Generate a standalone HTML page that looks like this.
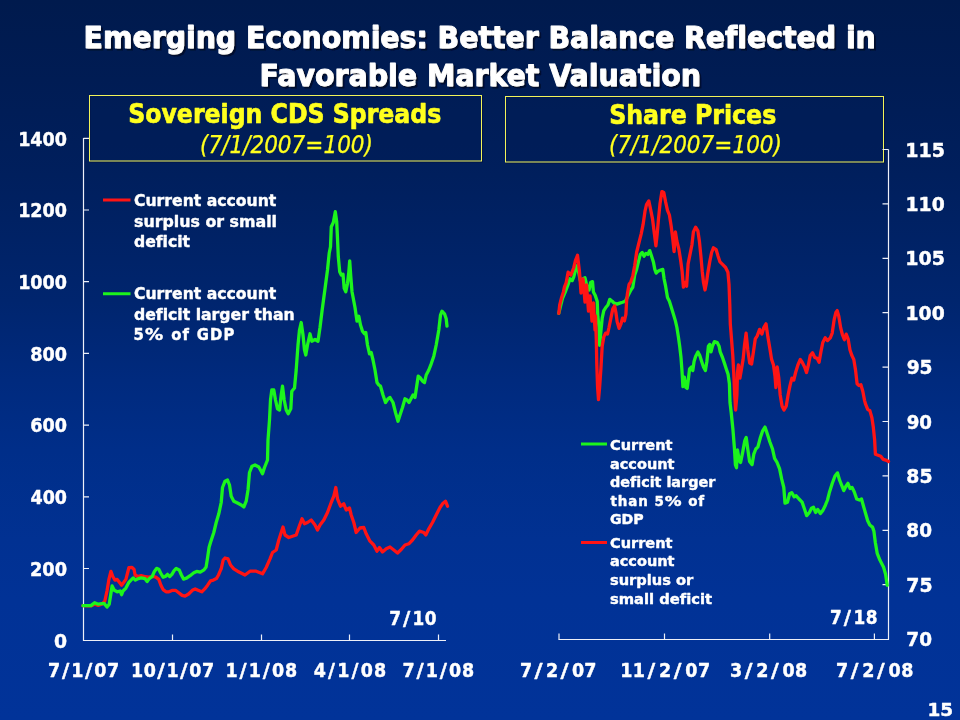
<!DOCTYPE html>
<html lang="en"><head><meta charset="utf-8"><title>Emerging Economies: Better Balance Reflected in Favorable Market Valuation</title>
<style>
html,body{margin:0;padding:0;background:#003399;}
body{width:960px;height:720px;overflow:hidden;}
svg{display:block;}
text{font-variant-ligatures:none;font-kerning:normal;}
</style></head><body>
<svg width="960" height="720" viewBox="0 0 960 720">

<defs>
<linearGradient id="bg" x1="0" y1="0" x2="0" y2="1">
<stop offset="0" stop-color="rgb(0,26,77)"/>
<stop offset="0.111" stop-color="rgb(0,28,84)"/>
<stop offset="0.244" stop-color="rgb(0,31,93)"/>
<stop offset="0.417" stop-color="rgb(0,37,110)"/>
<stop offset="0.528" stop-color="rgb(0,42,126)"/>
<stop offset="0.625" stop-color="rgb(0,46,137)"/>
<stop offset="0.75" stop-color="rgb(1,49,146)"/>
<stop offset="0.833" stop-color="rgb(1,50,150)"/>
<stop offset="1" stop-color="rgb(1,51,153)"/>
</linearGradient>
<filter id="sh" x="-2%" y="-20%" width="104%" height="150%"><feDropShadow dx="2" dy="2" stdDeviation="0.3" flood-color="#000a2e" flood-opacity="1"/></filter>
</defs>
<rect width="960" height="720" fill="url(#bg)"/>
<rect x="90.5" y="96.5" width="392" height="65.5" fill="none" stroke="#00103c" stroke-width="1" opacity="0.7"/>
<rect x="89.5" y="95.5" width="392" height="65.5" fill="#001e58" fill-opacity="0.55" stroke="#f2f45a" stroke-width="1"/>
<rect x="506.5" y="97.5" width="378" height="65.5" fill="none" stroke="#00103c" stroke-width="1" opacity="0.7"/>
<rect x="505.5" y="96.5" width="378" height="65.5" fill="#001e58" fill-opacity="0.55" stroke="#f2f45a" stroke-width="1"/>
<path d="M83.5 138 V640.5 H446" fill="none" stroke="#eef0f8" stroke-width="1.2"/>
<path d="M83.5 138.3 h5.5 M83.5 210.0 h5.5 M83.5 281.7 h5.5 M83.5 353.4 h5.5 M83.5 425.1 h5.5 M83.5 496.8 h5.5 M83.5 568.5 h5.5 M172.5 640.5 v-6 M261.5 640.5 v-6 M349.5 640.5 v-6 M438.5 640.5 v-6 " fill="none" stroke="#eef0f8" stroke-width="1.2"/>
<path d="M888.5 149.5 V639.5 H558.5" fill="none" stroke="#eef0f8" stroke-width="1.2"/>
<path d="M888.5 149.5 h-6 M888.5 203.9 h-6 M888.5 258.3 h-6 M888.5 312.7 h-6 M888.5 367.1 h-6 M888.5 421.5 h-6 M888.5 475.9 h-6 M888.5 530.3 h-6 M888.5 584.7 h-6 M559 639.5 v-6 M664.5 639.5 v-6 M769.7 639.5 v-6 M874.4 639.5 v-6 " fill="none" stroke="#eef0f8" stroke-width="1.2"/>
<polyline points="82.9,605.6 90.9,605.9 94.6,604.2 98.2,605.3 101.9,604.2 104.8,601.2 107.0,591.0 108.9,579.4 110.9,571.4 112.8,576.5 115.0,580.1 117.2,579.4 119.4,582.3 121.6,585.2 123.8,582.3 125.9,579.4 127.4,573.5 128.9,567.7 131.8,567.4 134.0,569.2 135.1,575.0 137.6,576.5 141.2,575.7 144.9,576.5 148.5,577.2 152.9,576.5 155.8,577.2 158.8,579.4 160.9,585.2 163.1,589.6 166.0,591.8 169.0,591.8 172.6,590.3 175.5,590.3 178.4,592.5 182.1,595.4 185.0,596.1 188.6,594.0 192.3,590.3 195.2,588.9 198.1,590.3 201.8,591.8 204.7,588.9 207.6,585.2 210.5,580.8 213.4,580.1 216.4,578.6 218.5,575.0 220.0,571.4 221.2,568.8 223.2,560.0 225.0,558.0 228.0,558.8 230.5,565.0 233.8,568.8 237.5,571.2 240.0,572.5 245.0,575.0 250.0,571.2 256.2,571.2 262.5,573.8 266.2,567.5 270.0,558.8 272.5,552.5 276.2,550.0 278.8,540.0 282.0,530.0 283.0,527.0 285.0,535.0 288.8,537.5 292.5,536.2 296.2,535.0 298.8,527.5 302.0,518.8 304.5,523.8 307.5,522.5 311.2,520.0 315.0,525.0 317.5,530.0 320.0,525.0 323.8,520.0 327.5,512.5 331.2,502.5 333.8,496.2 335.8,487.5 337.5,498.8 340.5,506.2 343.8,503.8 346.2,510.0 349.5,508.0 351.2,515.0 353.8,522.5 356.2,532.5 360.0,528.0 363.8,527.5 366.2,533.8 370.0,541.2 373.8,545.0 377.0,551.2 379.5,547.5 382.5,552.0 386.2,548.8 390.0,547.0 393.8,550.0 397.5,553.0 401.2,549.5 405.0,545.0 408.8,543.8 412.5,540.0 416.2,535.0 419.5,531.2 423.8,532.5 425.8,535.0 428.8,528.8 432.5,522.5 436.2,515.0 440.0,507.5 442.5,503.8 445.5,501.2 447.5,506.2" fill="none" stroke="#ff1414" stroke-width="3.3" stroke-linejoin="round" stroke-linecap="round"/>
<polyline points="82.9,605.6 90.9,605.6 94.6,602.7 98.2,604.2 104.1,603.4 107.0,607.1 109.2,604.2 110.6,595.4 112.1,585.9 114.3,590.3 117.2,591.8 120.1,591.0 121.6,594.7 123.0,591.0 125.9,588.1 128.9,582.3 131.0,580.1 133.2,577.9 135.4,580.1 138.3,578.6 141.2,577.9 144.9,578.6 147.1,581.6 149.3,578.6 152.2,576.5 154.4,571.4 156.6,568.4 158.8,569.2 160.9,573.5 163.1,577.2 165.3,576.5 167.5,574.3 169.7,576.5 171.9,574.3 174.1,570.6 176.2,568.4 179.2,569.9 181.4,575.0 183.5,579.1 186.5,578.2 190.1,575.7 193.8,572.8 196.7,571.4 200.3,572.1 204.0,569.9 206.1,567.0 207.6,557.5 209.1,547.3 210.5,542.5 213.8,532.5 216.2,522.5 218.8,513.8 221.2,502.5 222.5,487.5 225.0,481.2 227.5,480.0 229.5,485.0 231.2,496.2 233.8,501.2 237.5,503.0 241.2,505.0 243.8,507.0 246.2,501.2 248.0,490.0 249.5,472.5 252.0,466.2 255.0,465.0 258.8,467.0 261.2,471.2 262.5,473.8 264.5,467.5 267.5,460.0 268.0,440.0 269.5,420.0 270.5,400.0 271.8,390.0 273.8,390.0 275.5,400.0 277.5,408.8 279.5,410.0 281.2,395.0 282.5,386.2 284.2,400.0 286.2,410.0 288.2,413.8 290.8,408.8 291.8,391.2 294.5,388.0 296.2,370.0 298.0,345.0 299.5,330.0 301.2,322.5 303.0,335.0 304.5,350.0 305.8,355.0 307.5,345.0 310.0,333.8 311.8,341.2 315.0,339.5 318.0,341.2 320.0,327.5 322.0,311.2 327.5,270.0 329.2,253.3 330.5,246.7 331.3,226.7 333.3,222.5 335.3,211.7 336.7,221.7 337.5,238.3 338.3,256.7 339.7,271.7 341.3,275.0 343.0,274.2 344.2,288.3 345.8,291.7 347.5,283.3 348.7,273.3 349.7,260.8 350.8,276.7 352.0,291.7 354.2,303.3 355.0,307.5 357.0,321.2 358.8,316.2 360.5,325.0 362.5,331.2 364.5,333.8 365.8,332.5 367.5,345.0 369.5,353.8 371.2,352.5 373.0,360.0 375.0,370.0 377.0,382.5 378.8,385.0 380.5,386.2 383.0,395.0 385.5,402.5 388.0,398.8 390.0,397.5 393.0,402.5 395.5,412.5 398.0,421.2 400.0,415.0 402.5,407.5 405.0,398.8 407.0,400.0 409.0,402.5 411.0,398.8 413.0,395.0 415.0,397.5 416.5,387.5 418.2,376.2 420.0,377.5 422.5,381.2 424.5,382.5 426.2,375.0 428.8,370.0 431.2,363.8 433.8,356.2 436.2,345.0 438.8,330.0 440.5,315.0 442.0,311.2 444.5,313.8 446.2,318.8 447.0,326.2" fill="none" stroke="#1cf51c" stroke-width="3.3" stroke-linejoin="round" stroke-linecap="round"/>
<polyline points="558.8,313.4 560.6,305.9 562.5,298.4 565.3,291.9 565.3,291.9 568.1,284.4 570.0,278.8 572.2,280.6 573.8,276.9 575.6,269.4 577.1,265.6 578.4,271.2 580.3,280.6 583.1,278.8 585.0,277.8 586.9,286.2 589.1,290.0 590.6,282.5 592.5,281.6 593.4,291.9 595.3,295.6 597.2,301.2 597.8,316.2 599.1,327.5 599.6,345.3 600.9,331.2 602.2,318.1 603.8,310.6 605.6,307.8 607.9,305.0 609.8,299.4 609.8,299.4 612.2,301.2 614.1,303.1 616.9,304.1 619.7,303.1 622.5,302.2 625.3,301.2 628.1,295.6 630.9,290.0 632.8,287.2 634.7,275.0 636.6,269.4 638.4,261.9 640.3,254.4 642.2,252.5 644.1,256.2 645.9,253.4 647.8,254.4 649.7,250.6 651.6,256.2 653.4,261.9 654.8,269.4 656.2,273.1 658.1,271.2 660.0,270.3 662.8,269.4 664.1,278.8 665.6,286.2 667.5,297.5 669.4,301.2 669.4,301.2 671.2,306.9 673.5,314.4 675.4,320.9 676.9,327.5 678.4,336.9 679.7,346.2 681.0,357.5 682.1,372.5 682.9,386.6 684.4,377.2 685.9,387.5 687.2,388.4 688.5,378.1 689.6,368.8 691.5,366.9 692.8,370.6 694.1,361.2 695.6,356.6 697.9,351.9 699.8,355.6 701.6,361.2 703.5,366.9 705.4,370.6 706.9,361.2 708.4,346.2 709.7,344.4 711.0,351.9 712.5,346.2 714.4,341.6 717.2,342.5 719.1,346.2 720.2,351.9 722.5,357.5 724.4,363.1 726.2,368.8 728.1,374.4 729.4,383.8 730.0,402.5 731.2,412.5 732.9,429.2 734.4,447.9 735.4,464.6 736.5,467.7 737.5,450.0 739.2,460.4 740.6,462.5 742.7,452.1 744.8,440.6 746.2,437.5 747.9,450.0 749.6,461.5 752.1,464.6 753.8,454.2 755.8,449.0 757.9,446.9 760.4,437.5 762.5,431.2 765.0,427.1 767.1,433.3 769.8,441.7 772.5,449.0 774.6,458.3 777.1,462.5 779.6,468.8 781.7,479.2 783.8,487.5 785.0,503.1 787.5,502.1 789.6,493.8 791.7,492.7 794.2,496.9 796.2,495.8 799.0,499.0 802.1,502.1 804.2,508.3 806.7,515.6 809.4,512.5 811.5,508.3 813.5,507.3 815.6,512.5 817.7,509.4 820.4,513.5 822.9,510.4 825.4,505.2 827.5,500.0 829.6,491.7 832.3,483.3 835.0,476.0 837.5,472.9 839.6,480.2 841.7,485.4 843.8,490.6 845.8,486.5 847.9,483.3 850.0,488.5 852.1,487.5 854.2,491.7 856.7,499.0 859.4,500.0 861.5,499.0 863.5,506.2 865.6,513.5 867.7,520.8 869.8,525.0 872.5,527.1 873.9,531.1 875.3,542.2 877.2,553.3 880.0,560.3 883.6,567.2 885.6,574.2 887.2,585.3" fill="none" stroke="#1cf51c" stroke-width="3.3" stroke-linejoin="round" stroke-linecap="round"/>
<polyline points="558.8,313.4 559.7,305.0 561.6,297.5 563.4,291.9 564.4,287.2 566.2,282.5 568.1,272.2 570.9,275.0 573.8,267.5 575.6,260.0 577.5,255.3 579.5,272.0 581.0,293.0 583.0,279.0 585.0,302.0 586.5,285.0 588.5,311.0 590.0,296.0 592.0,321.0 593.5,303.0 595.0,330.0 595.5,316.0 596.3,340.0 596.8,365.0 597.6,387.5 598.5,399.7 599.6,387.5 600.9,368.8 602.2,346.2 603.8,336.9 605.6,333.1 607.5,334.1 609.0,327.5 610.9,318.1 612.8,308.8 614.6,305.9 615.9,312.5 617.2,321.9 619.1,328.4 621.0,323.8 622.5,318.1 624.4,320.9 625.9,314.4 626.6,301.2 627.4,293.8 629.1,284.4 630.9,281.6 632.8,275.9 634.7,265.6 636.6,252.5 638.4,245.0 641.2,233.8 643.1,224.4 645.0,211.2 646.5,204.7 648.8,200.9 650.6,209.4 652.5,218.8 654.4,233.8 655.9,245.9 657.2,233.8 658.5,218.8 660.0,203.8 661.9,191.6 663.8,192.5 665.6,201.9 667.5,210.3 669.4,215.0 671.2,226.2 672.8,239.4 674.1,251.6 675.4,231.9 676.9,241.2 678.8,248.8 680.6,260.0 682.1,271.2 683.4,287.2 685.3,282.5 686.6,286.2 688.1,263.8 690.0,254.4 691.9,245.0 693.4,231.9 695.6,227.2 697.9,230.9 699.4,241.2 700.9,256.2 702.2,271.2 703.5,282.5 705.0,290.0 706.5,282.5 707.8,273.1 709.7,261.9 711.6,252.5 713.4,247.8 716.2,249.7 718.1,256.2 720.0,261.9 722.8,264.7 725.6,267.5 727.9,272.2 729.0,284.4 729.8,305.0 730.3,323.8 731.5,338.8 732.8,355.6 733.8,374.4 734.7,395.0 735.6,410.0 736.9,395.0 737.5,372.5 738.4,365.0 739.9,378.1 741.2,370.6 743.1,359.4 744.6,344.4 746.1,333.1 747.8,350.0 749.7,363.1 751.6,364.1 753.4,351.9 755.3,338.8 757.2,335.9 759.6,329.4 761.9,334.1 763.8,327.5 766.0,323.8 767.9,336.9 769.8,348.1 771.6,359.4 773.5,365.0 775.0,376.2 775.9,387.5 777.2,366.9 778.8,378.1 780.2,395.0 782.1,406.2 784.0,410.0 786.2,406.2 788.1,395.0 790.0,385.6 791.9,378.1 793.8,380.0 795.6,372.5 797.9,365.0 800.3,359.4 802.2,362.2 804.6,366.9 806.5,372.5 808.4,365.0 810.2,355.6 812.5,352.8 814.8,357.5 817.2,358.4 819.1,362.2 820.9,351.9 822.8,342.5 825.2,337.8 827.5,340.6 830.3,337.8 832.2,333.1 834.1,320.0 835.9,312.5 837.2,310.6 838.8,316.2 840.6,327.5 842.5,335.0 844.4,339.7 846.2,334.1 848.1,338.8 850.0,350.0 851.9,355.6 853.8,359.4 855.6,370.6 857.1,383.8 859.0,385.6 860.9,384.7 862.8,391.2 864.6,400.6 865.6,404.2 867.7,409.4 869.8,410.4 871.9,417.7 873.3,427.1 874.6,439.6 875.4,454.2 878.1,455.2 880.8,456.2 883.3,459.4 886.5,460.4 888.5,461.5" fill="none" stroke="#ff1414" stroke-width="3.3" stroke-linejoin="round" stroke-linecap="round"/>
<path d="M103 200 H130.5" stroke="#ff1414" stroke-width="3"/>
<path d="M103 293.75 H130.5" stroke="#1cf51c" stroke-width="3"/>
<path d="M581 444 H607" stroke="#1cf51c" stroke-width="3"/>
<path d="M581 542.5 H607" stroke="#ff1414" stroke-width="3"/>
<text x="83.64" y="48.25" font-family="'DejaVu Sans Condensed','DejaVu Sans','Liberation Sans',sans-serif" font-stretch="condensed" font-weight="bold" font-size="30.77" fill="#ffffff" stroke="#ffffff" stroke-width="0.9" stroke-linejoin="round" filter="url(#sh)" textLength="792.12" lengthAdjust="spacingAndGlyphs">Emerging Economies: Better Balance Reflected in</text>
<text x="259.63" y="85.55" font-family="'DejaVu Sans Condensed','DejaVu Sans','Liberation Sans',sans-serif" font-stretch="condensed" font-weight="bold" font-size="30.77" fill="#ffffff" stroke="#ffffff" stroke-width="0.9" stroke-linejoin="round" filter="url(#sh)" textLength="441.33" lengthAdjust="spacingAndGlyphs">Favorable Market Valuation</text>
<text x="128.24" y="123.0" font-family="'DejaVu Sans Condensed','DejaVu Sans','Liberation Sans',sans-serif" font-stretch="condensed" font-weight="bold" font-size="26.18" fill="#ffff1e" stroke="#ffff1e" stroke-width="0.6" stroke-linejoin="round" textLength="313.01" lengthAdjust="spacingAndGlyphs">Sovereign CDS Spreads</text>
<text x="199.97" y="152.57" font-family="'DejaVu Sans Condensed','DejaVu Sans','Liberation Sans',sans-serif" font-stretch="condensed" font-style="italic" font-size="24.16" fill="#ffff1e" stroke="#ffff1e" stroke-width="0.25" stroke-linejoin="round" textLength="173.07" lengthAdjust="spacingAndGlyphs">(7/1/2007=100)</text>
<text x="609.23" y="123.9" font-family="'DejaVu Sans Condensed','DejaVu Sans','Liberation Sans',sans-serif" font-stretch="condensed" font-weight="bold" font-size="26.18" fill="#ffff1e" stroke="#ffff1e" stroke-width="0.6" stroke-linejoin="round" textLength="167.02" lengthAdjust="spacingAndGlyphs">Share Prices</text>
<text x="608.97" y="153.47" font-family="'DejaVu Sans Condensed','DejaVu Sans','Liberation Sans',sans-serif" font-stretch="condensed" font-style="italic" font-size="24.16" fill="#ffff1e" stroke="#ffff1e" stroke-width="0.25" stroke-linejoin="round" textLength="173.07" lengthAdjust="spacingAndGlyphs">(7/1/2007=100)</text>
<text x="18.16" y="145.6" font-family="'DejaVu Sans Condensed','DejaVu Sans','Liberation Sans',sans-serif" font-stretch="condensed" font-weight="bold" font-size="19.45" fill="#ffffff" stroke="#ffffff" stroke-width="0.4" stroke-linejoin="round" textLength="48.86" lengthAdjust="spacingAndGlyphs">1400</text>
<text x="18.16" y="217.3" font-family="'DejaVu Sans Condensed','DejaVu Sans','Liberation Sans',sans-serif" font-stretch="condensed" font-weight="bold" font-size="19.45" fill="#ffffff" stroke="#ffffff" stroke-width="0.4" stroke-linejoin="round" textLength="48.86" lengthAdjust="spacingAndGlyphs">1200</text>
<text x="18.16" y="289.0" font-family="'DejaVu Sans Condensed','DejaVu Sans','Liberation Sans',sans-serif" font-stretch="condensed" font-weight="bold" font-size="19.45" fill="#ffffff" stroke="#ffffff" stroke-width="0.4" stroke-linejoin="round" textLength="48.86" lengthAdjust="spacingAndGlyphs">1000</text>
<text x="30.22" y="360.7" font-family="'DejaVu Sans Condensed','DejaVu Sans','Liberation Sans',sans-serif" font-stretch="condensed" font-weight="bold" font-size="19.45" fill="#ffffff" stroke="#ffffff" stroke-width="0.4" stroke-linejoin="round" textLength="36.80" lengthAdjust="spacingAndGlyphs">800</text>
<text x="30.22" y="432.4" font-family="'DejaVu Sans Condensed','DejaVu Sans','Liberation Sans',sans-serif" font-stretch="condensed" font-weight="bold" font-size="19.45" fill="#ffffff" stroke="#ffffff" stroke-width="0.4" stroke-linejoin="round" textLength="36.80" lengthAdjust="spacingAndGlyphs">600</text>
<text x="30.49" y="504.1" font-family="'DejaVu Sans Condensed','DejaVu Sans','Liberation Sans',sans-serif" font-stretch="condensed" font-weight="bold" font-size="19.45" fill="#ffffff" stroke="#ffffff" stroke-width="0.4" stroke-linejoin="round" textLength="36.53" lengthAdjust="spacingAndGlyphs">400</text>
<text x="29.96" y="575.8" font-family="'DejaVu Sans Condensed','DejaVu Sans','Liberation Sans',sans-serif" font-stretch="condensed" font-weight="bold" font-size="19.45" fill="#ffffff" stroke="#ffffff" stroke-width="0.4" stroke-linejoin="round" textLength="37.07" lengthAdjust="spacingAndGlyphs">200</text>
<text x="53.95" y="647.5" font-family="'DejaVu Sans Condensed','DejaVu Sans','Liberation Sans',sans-serif" font-stretch="condensed" font-weight="bold" font-size="19.45" fill="#ffffff" stroke="#ffffff" stroke-width="0.4" stroke-linejoin="round" textLength="13.10" lengthAdjust="spacingAndGlyphs">0</text>
<text x="48.10" y="676.6" font-family="'DejaVu Sans Condensed','DejaVu Sans','Liberation Sans',sans-serif" font-stretch="condensed" font-weight="bold" font-size="19.45" fill="#ffffff" stroke="#ffffff" stroke-width="0.4" stroke-linejoin="round" letter-spacing="0.740">7<tspan dx="0.88" textLength="8.17" lengthAdjust="spacingAndGlyphs">/</tspan><tspan dx="1.07">1</tspan><tspan dx="0.88" textLength="8.17" lengthAdjust="spacingAndGlyphs">/</tspan><tspan dx="1.07">07</tspan></text>
<text x="131.10" y="676.6" font-family="'DejaVu Sans Condensed','DejaVu Sans','Liberation Sans',sans-serif" font-stretch="condensed" font-weight="bold" font-size="19.45" fill="#ffffff" stroke="#ffffff" stroke-width="0.4" stroke-linejoin="round" letter-spacing="0.475">10<tspan dx="0.88" textLength="8.17" lengthAdjust="spacingAndGlyphs">/</tspan><tspan dx="1.07">1</tspan><tspan dx="0.88" textLength="8.17" lengthAdjust="spacingAndGlyphs">/</tspan><tspan dx="1.07">07</tspan></text>
<text x="225.55" y="676.6" font-family="'DejaVu Sans Condensed','DejaVu Sans','Liberation Sans',sans-serif" font-stretch="condensed" font-weight="bold" font-size="19.45" fill="#ffffff" stroke="#ffffff" stroke-width="0.4" stroke-linejoin="round" letter-spacing="0.940">1<tspan dx="0.88" textLength="8.17" lengthAdjust="spacingAndGlyphs">/</tspan><tspan dx="1.07">1</tspan><tspan dx="0.88" textLength="8.17" lengthAdjust="spacingAndGlyphs">/</tspan><tspan dx="1.07">08</tspan></text>
<text x="313.85" y="676.6" font-family="'DejaVu Sans Condensed','DejaVu Sans','Liberation Sans',sans-serif" font-stretch="condensed" font-weight="bold" font-size="19.45" fill="#ffffff" stroke="#ffffff" stroke-width="0.4" stroke-linejoin="round" letter-spacing="1.120">4<tspan dx="0.88" textLength="8.17" lengthAdjust="spacingAndGlyphs">/</tspan><tspan dx="1.07">1</tspan><tspan dx="0.88" textLength="8.17" lengthAdjust="spacingAndGlyphs">/</tspan><tspan dx="1.07">08</tspan></text>
<text x="402.60" y="676.6" font-family="'DejaVu Sans Condensed','DejaVu Sans','Liberation Sans',sans-serif" font-stretch="condensed" font-weight="bold" font-size="19.45" fill="#ffffff" stroke="#ffffff" stroke-width="0.4" stroke-linejoin="round" letter-spacing="0.850">7<tspan dx="0.88" textLength="8.17" lengthAdjust="spacingAndGlyphs">/</tspan><tspan dx="1.07">1</tspan><tspan dx="0.88" textLength="8.17" lengthAdjust="spacingAndGlyphs">/</tspan><tspan dx="1.07">08</tspan></text>
<text x="389.15" y="624.8" font-family="'DejaVu Sans Condensed','DejaVu Sans','Liberation Sans',sans-serif" font-stretch="condensed" font-weight="bold" font-size="18.75" fill="#ffffff" stroke="#ffffff" stroke-width="0.4" stroke-linejoin="round" letter-spacing="0.483">7<tspan dx="1.59" textLength="7.88" lengthAdjust="spacingAndGlyphs">/</tspan><tspan dx="1.69">10</tspan></text>
<text x="905.31" y="156.6" font-family="'DejaVu Sans Condensed','DejaVu Sans','Liberation Sans',sans-serif" font-stretch="condensed" font-weight="bold" font-size="19.45" fill="#ffffff" stroke="#ffffff" stroke-width="0.4" stroke-linejoin="round" textLength="39.72" lengthAdjust="spacingAndGlyphs">115</text>
<text x="905.59" y="211.0" font-family="'DejaVu Sans Condensed','DejaVu Sans','Liberation Sans',sans-serif" font-stretch="condensed" font-weight="bold" font-size="19.45" fill="#ffffff" stroke="#ffffff" stroke-width="0.4" stroke-linejoin="round" textLength="39.15" lengthAdjust="spacingAndGlyphs">110</text>
<text x="905.31" y="265.4" font-family="'DejaVu Sans Condensed','DejaVu Sans','Liberation Sans',sans-serif" font-stretch="condensed" font-weight="bold" font-size="19.45" fill="#ffffff" stroke="#ffffff" stroke-width="0.4" stroke-linejoin="round" textLength="39.72" lengthAdjust="spacingAndGlyphs">105</text>
<text x="905.59" y="319.8" font-family="'DejaVu Sans Condensed','DejaVu Sans','Liberation Sans',sans-serif" font-stretch="condensed" font-weight="bold" font-size="19.45" fill="#ffffff" stroke="#ffffff" stroke-width="0.4" stroke-linejoin="round" textLength="39.15" lengthAdjust="spacingAndGlyphs">100</text>
<text x="906.65" y="374.2" font-family="'DejaVu Sans Condensed','DejaVu Sans','Liberation Sans',sans-serif" font-stretch="condensed" font-weight="bold" font-size="19.45" fill="#ffffff" stroke="#ffffff" stroke-width="0.4" stroke-linejoin="round" textLength="25.92" lengthAdjust="spacingAndGlyphs">95</text>
<text x="906.67" y="428.6" font-family="'DejaVu Sans Condensed','DejaVu Sans','Liberation Sans',sans-serif" font-stretch="condensed" font-weight="bold" font-size="19.45" fill="#ffffff" stroke="#ffffff" stroke-width="0.4" stroke-linejoin="round" textLength="25.37" lengthAdjust="spacingAndGlyphs">90</text>
<text x="906.37" y="483.0" font-family="'DejaVu Sans Condensed','DejaVu Sans','Liberation Sans',sans-serif" font-stretch="condensed" font-weight="bold" font-size="19.45" fill="#ffffff" stroke="#ffffff" stroke-width="0.4" stroke-linejoin="round" textLength="26.21" lengthAdjust="spacingAndGlyphs">85</text>
<text x="906.39" y="537.4" font-family="'DejaVu Sans Condensed','DejaVu Sans','Liberation Sans',sans-serif" font-stretch="condensed" font-weight="bold" font-size="19.45" fill="#ffffff" stroke="#ffffff" stroke-width="0.4" stroke-linejoin="round" textLength="25.66" lengthAdjust="spacingAndGlyphs">80</text>
<text x="906.37" y="591.8" font-family="'DejaVu Sans Condensed','DejaVu Sans','Liberation Sans',sans-serif" font-stretch="condensed" font-weight="bold" font-size="19.45" fill="#ffffff" stroke="#ffffff" stroke-width="0.4" stroke-linejoin="round" textLength="26.21" lengthAdjust="spacingAndGlyphs">75</text>
<text x="906.39" y="646.2" font-family="'DejaVu Sans Condensed','DejaVu Sans','Liberation Sans',sans-serif" font-stretch="condensed" font-weight="bold" font-size="19.45" fill="#ffffff" stroke="#ffffff" stroke-width="0.4" stroke-linejoin="round" textLength="25.66" lengthAdjust="spacingAndGlyphs">70</text>
<text x="520.10" y="676.8" font-family="'DejaVu Sans Condensed','DejaVu Sans','Liberation Sans',sans-serif" font-stretch="condensed" font-weight="bold" font-size="19.45" fill="#ffffff" stroke="#ffffff" stroke-width="0.4" stroke-linejoin="round" letter-spacing="0.090">7<tspan dx="2.24" textLength="8.17" lengthAdjust="spacingAndGlyphs">/</tspan><tspan dx="3.31">2</tspan><tspan dx="2.24" textLength="8.17" lengthAdjust="spacingAndGlyphs">/</tspan><tspan dx="3.31">07</tspan></text>
<text x="620.25" y="676.8" font-family="'DejaVu Sans Condensed','DejaVu Sans','Liberation Sans',sans-serif" font-stretch="condensed" font-weight="bold" font-size="19.45" fill="#ffffff" stroke="#ffffff" stroke-width="0.4" stroke-linejoin="round" letter-spacing="0.383">11<tspan dx="2.24" textLength="8.17" lengthAdjust="spacingAndGlyphs">/</tspan><tspan dx="3.31">2</tspan><tspan dx="2.24" textLength="8.17" lengthAdjust="spacingAndGlyphs">/</tspan><tspan dx="3.31">07</tspan></text>
<text x="730.10" y="676.8" font-family="'DejaVu Sans Condensed','DejaVu Sans','Liberation Sans',sans-serif" font-stretch="condensed" font-weight="bold" font-size="19.45" fill="#ffffff" stroke="#ffffff" stroke-width="0.4" stroke-linejoin="round" letter-spacing="0.350">3<tspan dx="2.24" textLength="8.17" lengthAdjust="spacingAndGlyphs">/</tspan><tspan dx="3.31">2</tspan><tspan dx="2.24" textLength="8.17" lengthAdjust="spacingAndGlyphs">/</tspan><tspan dx="3.31">08</tspan></text>
<text x="836.00" y="676.8" font-family="'DejaVu Sans Condensed','DejaVu Sans','Liberation Sans',sans-serif" font-stretch="condensed" font-weight="bold" font-size="19.45" fill="#ffffff" stroke="#ffffff" stroke-width="0.4" stroke-linejoin="round" letter-spacing="0.400">7<tspan dx="2.24" textLength="8.17" lengthAdjust="spacingAndGlyphs">/</tspan><tspan dx="3.31">2</tspan><tspan dx="2.24" textLength="8.17" lengthAdjust="spacingAndGlyphs">/</tspan><tspan dx="3.31">08</tspan></text>
<text x="829.95" y="623.8" font-family="'DejaVu Sans Condensed','DejaVu Sans','Liberation Sans',sans-serif" font-stretch="condensed" font-weight="bold" font-size="18.75" fill="#ffffff" stroke="#ffffff" stroke-width="0.4" stroke-linejoin="round" letter-spacing="0.567">7<tspan dx="1.59" textLength="7.88" lengthAdjust="spacingAndGlyphs">/</tspan><tspan dx="1.69">18</tspan></text>
<text x="927.49" y="715.6" font-family="'DejaVu Sans Condensed','DejaVu Sans','Liberation Sans',sans-serif" font-stretch="condensed" font-weight="bold" font-size="17.45" fill="#ffffff" stroke="#ffffff" stroke-width="0.4" stroke-linejoin="round" textLength="25.67" lengthAdjust="spacingAndGlyphs">15</text>
<text x="134.00" y="206.05" font-family="'DejaVu Sans Condensed','DejaVu Sans','Liberation Sans',sans-serif" font-stretch="condensed" font-weight="bold" font-size="16.45" fill="#ffffff" stroke="#ffffff" stroke-width="0.4" stroke-linejoin="round" textLength="142.25" lengthAdjust="spacingAndGlyphs">Current account</text>
<text x="133.99" y="226.55" font-family="'DejaVu Sans Condensed','DejaVu Sans','Liberation Sans',sans-serif" font-stretch="condensed" font-weight="bold" font-size="16.45" fill="#ffffff" stroke="#ffffff" stroke-width="0.4" stroke-linejoin="round" textLength="143.02" lengthAdjust="spacingAndGlyphs">surplus or small</text>
<text x="134.00" y="246.8" font-family="'DejaVu Sans Condensed','DejaVu Sans','Liberation Sans',sans-serif" font-stretch="condensed" font-weight="bold" font-size="16.45" fill="#ffffff" stroke="#ffffff" stroke-width="0.4" stroke-linejoin="round" textLength="56.01" lengthAdjust="spacingAndGlyphs">deficit</text>
<text x="134.00" y="299.3" font-family="'DejaVu Sans Condensed','DejaVu Sans','Liberation Sans',sans-serif" font-stretch="condensed" font-weight="bold" font-size="16.45" fill="#ffffff" stroke="#ffffff" stroke-width="0.4" stroke-linejoin="round" textLength="142.25" lengthAdjust="spacingAndGlyphs">Current account</text>
<text x="134.00" y="319.8" font-family="'DejaVu Sans Condensed','DejaVu Sans','Liberation Sans',sans-serif" font-stretch="condensed" font-weight="bold" font-size="16.45" fill="#ffffff" stroke="#ffffff" stroke-width="0.4" stroke-linejoin="round" textLength="160.76" lengthAdjust="spacingAndGlyphs">deficit larger than</text>
<text x="133.50" y="339.8" font-family="'DejaVu Sans Condensed','DejaVu Sans','Liberation Sans',sans-serif" font-stretch="condensed" font-weight="bold" font-size="16.45" fill="#ffffff" stroke="#ffffff" stroke-width="0.4" stroke-linejoin="round" letter-spacing="1.250">5<tspan textLength="19.74" lengthAdjust="spacingAndGlyphs">%</tspan> of GDP</text>
<text x="610.00" y="449.8" font-family="'DejaVu Sans Condensed','DejaVu Sans','Liberation Sans',sans-serif" font-stretch="condensed" font-weight="bold" font-size="14.95" fill="#ffffff" stroke="#ffffff" stroke-width="0.4" stroke-linejoin="round" textLength="62.50" lengthAdjust="spacingAndGlyphs">Current</text>
<text x="610.00" y="468.55" font-family="'DejaVu Sans Condensed','DejaVu Sans','Liberation Sans',sans-serif" font-stretch="condensed" font-weight="bold" font-size="14.95" fill="#ffffff" stroke="#ffffff" stroke-width="0.4" stroke-linejoin="round" textLength="64.50" lengthAdjust="spacingAndGlyphs">account</text>
<text x="610.00" y="487.3" font-family="'DejaVu Sans Condensed','DejaVu Sans','Liberation Sans',sans-serif" font-stretch="condensed" font-weight="bold" font-size="14.95" fill="#ffffff" stroke="#ffffff" stroke-width="0.4" stroke-linejoin="round" textLength="105.25" lengthAdjust="spacingAndGlyphs">deficit larger</text>
<text x="610.50" y="505.55" font-family="'DejaVu Sans Condensed','DejaVu Sans','Liberation Sans',sans-serif" font-stretch="condensed" font-weight="bold" font-size="14.95" fill="#ffffff" stroke="#ffffff" stroke-width="0.4" stroke-linejoin="round" letter-spacing="0.917">than 5<tspan textLength="17.94" lengthAdjust="spacingAndGlyphs">%</tspan> of</text>
<text x="609.99" y="524.3" font-family="'DejaVu Sans Condensed','DejaVu Sans','Liberation Sans',sans-serif" font-stretch="condensed" font-weight="bold" font-size="14.95" fill="#ffffff" stroke="#ffffff" stroke-width="0.4" stroke-linejoin="round" textLength="33.77" lengthAdjust="spacingAndGlyphs">GDP</text>
<text x="610.00" y="547.8" font-family="'DejaVu Sans Condensed','DejaVu Sans','Liberation Sans',sans-serif" font-stretch="condensed" font-weight="bold" font-size="14.95" fill="#ffffff" stroke="#ffffff" stroke-width="0.4" stroke-linejoin="round" textLength="62.50" lengthAdjust="spacingAndGlyphs">Current</text>
<text x="610.00" y="566.05" font-family="'DejaVu Sans Condensed','DejaVu Sans','Liberation Sans',sans-serif" font-stretch="condensed" font-weight="bold" font-size="14.95" fill="#ffffff" stroke="#ffffff" stroke-width="0.4" stroke-linejoin="round" textLength="64.50" lengthAdjust="spacingAndGlyphs">account</text>
<text x="610.00" y="584.8" font-family="'DejaVu Sans Condensed','DejaVu Sans','Liberation Sans',sans-serif" font-stretch="condensed" font-weight="bold" font-size="14.95" fill="#ffffff" stroke="#ffffff" stroke-width="0.4" stroke-linejoin="round" textLength="83.25" lengthAdjust="spacingAndGlyphs">surplus or</text>
<text x="610.00" y="603.5" font-family="'DejaVu Sans Condensed','DejaVu Sans','Liberation Sans',sans-serif" font-stretch="condensed" font-weight="bold" font-size="14.95" fill="#ffffff" stroke="#ffffff" stroke-width="0.4" stroke-linejoin="round" textLength="102.00" lengthAdjust="spacingAndGlyphs">small deficit</text>
</svg>
</body></html>
